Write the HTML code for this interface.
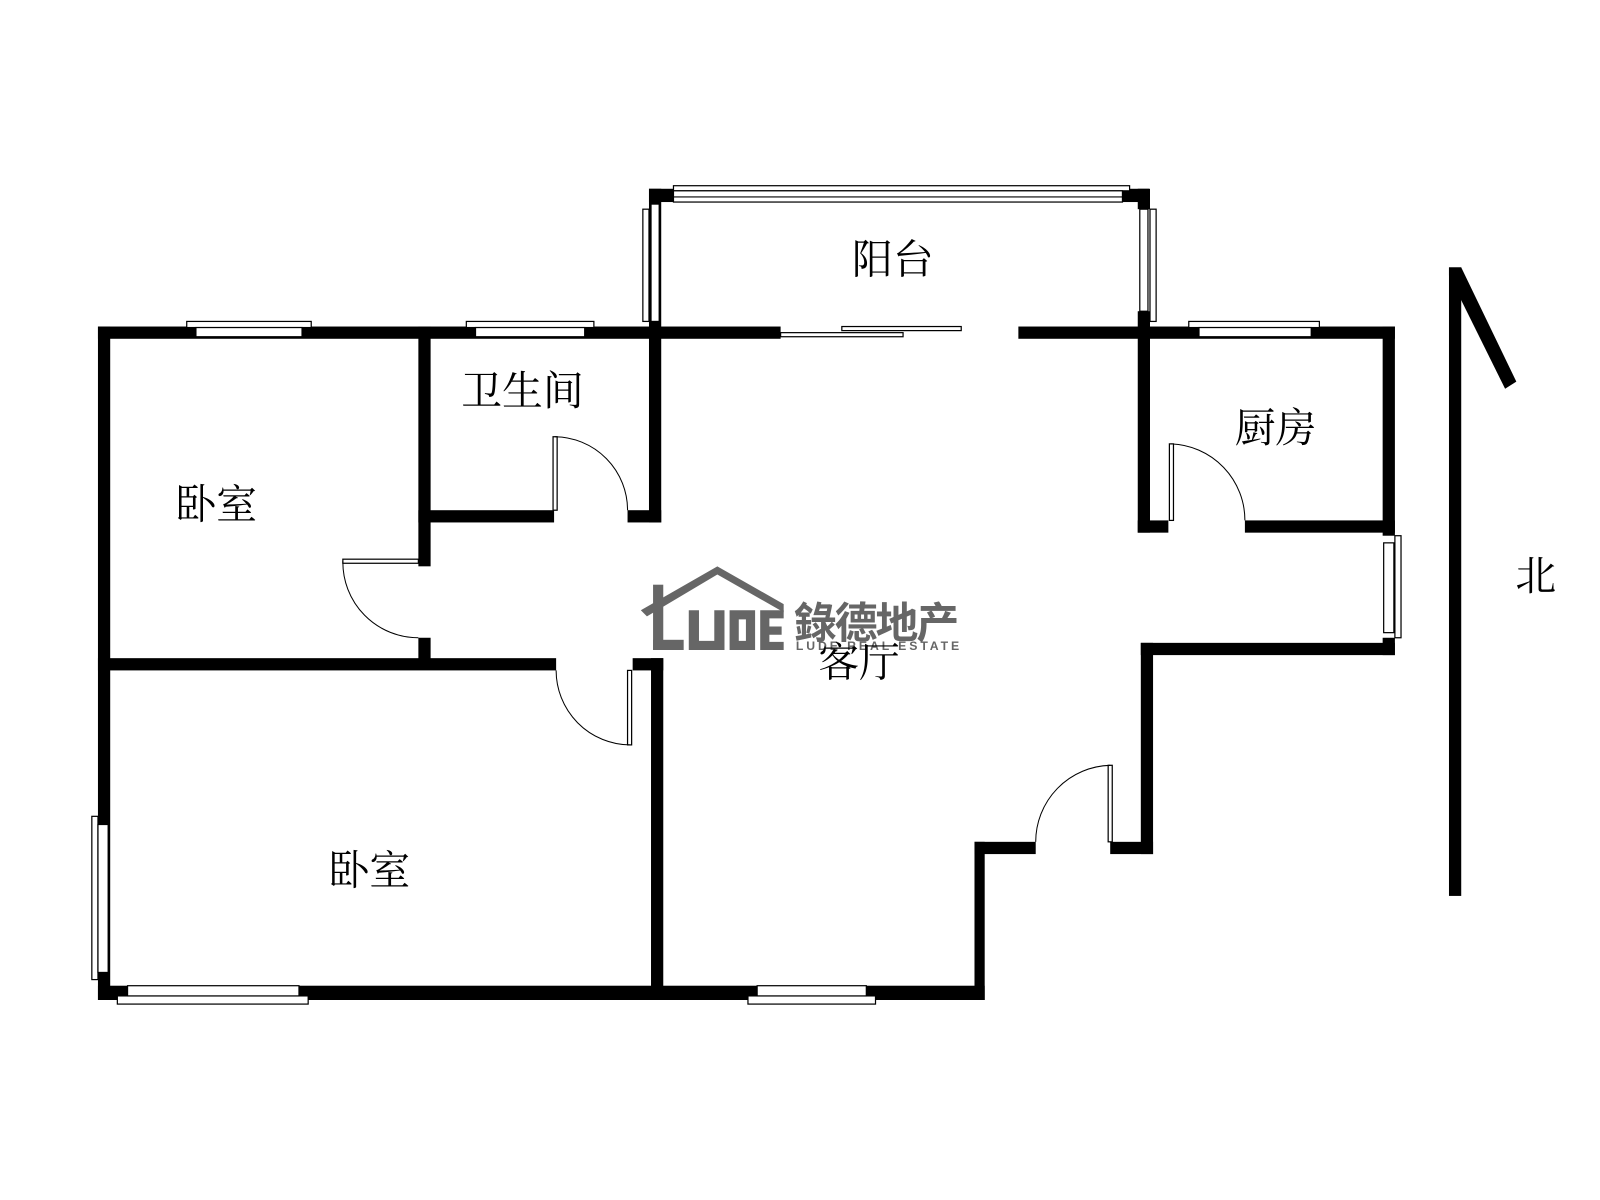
<!DOCTYPE html>
<html><head><meta charset="utf-8"><style>
html,body{margin:0;padding:0;background:#fff;}
svg{display:block;}
text{font-family:"Liberation Serif","Noto Serif CJK SC",serif;}
</style></head><body>
<svg width="1600" height="1200" viewBox="0 0 1568 1176" xmlns="http://www.w3.org/2000/svg">
<rect width="1568" height="1176" fill="#fff"/>
<g fill="#000">
<!-- top walls -->
<rect x="96" y="320" width="669" height="12"/>
<rect x="998" y="320" width="369" height="12"/>
<!-- left wall -->
<rect x="96" y="320" width="12" height="660"/>
<!-- bottom wall -->
<rect x="96" y="966" width="869" height="14"/>
<!-- bath/bedroom1 partition -->
<rect x="410" y="320" width="12" height="235"/>
<rect x="410" y="625" width="12" height="25"/>
<!-- bath bottom -->
<rect x="410" y="500" width="133" height="12"/>
<rect x="615" y="500" width="33" height="12"/>
<!-- bath right / balcony left -->
<rect x="636" y="185" width="12" height="327"/>
<rect x="636" y="185" width="24" height="13"/>
<rect x="1100" y="185" width="26" height="13"/>
<rect x="1115" y="185" width="12" height="20"/>
<rect x="1115" y="305" width="12" height="20"/>
<!-- kitchen -->
<rect x="1115" y="320" width="12" height="202"/>
<rect x="1115" y="510" width="30" height="12"/>
<rect x="1220" y="510" width="147" height="12"/>
<rect x="1355" y="320" width="12" height="205"/>
<rect x="1355" y="625" width="12" height="17"/>
<!-- right lower -->
<rect x="1118" y="630" width="249" height="12"/>
<rect x="1118" y="630" width="12" height="207"/>
<rect x="1088" y="825" width="42" height="12"/>
<rect x="955" y="825" width="60" height="12"/>
<rect x="955" y="825" width="10" height="155"/>
<!-- bedroom partition -->
<rect x="96" y="645" width="449" height="12"/>
<rect x="620" y="645" width="30" height="12"/>
<rect x="638" y="645" width="12" height="323"/>
<!-- north arrow -->
<rect x="1420" y="262" width="12" height="616"/>
<polygon points="1420,262 1432,262 1486,374 1475,381 1420,270"/>
</g>
<g fill="#fff" stroke="#000" stroke-width="1.2">
<!-- windows -->
<rect x="183" y="315" width="122" height="6"/><rect x="192" y="321" width="104" height="9"/>
<rect x="457" y="315" width="125" height="6"/><rect x="466" y="321" width="107" height="9"/>
<rect x="1165" y="315" width="128" height="6"/><rect x="1175" y="321" width="110" height="9"/>
<rect x="115" y="976" width="187" height="8"/><rect x="125" y="966" width="168" height="10"/>
<rect x="733" y="976" width="125" height="8"/><rect x="742" y="966" width="107" height="10"/>
<rect x="90" y="800" width="6" height="160"/><rect x="96" y="808" width="10" height="145"/>
<rect x="1367" y="525" width="6" height="100"/><rect x="1356" y="532" width="10" height="88"/>
<!-- balcony windows -->
<rect x="660" y="182" width="447" height="5"/><rect x="660" y="187" width="440" height="11"/>
<line x1="660" y1="193" x2="1100" y2="193"/>
<rect x="630" y="205" width="6" height="110"/><rect x="638" y="200" width="8" height="115"/>
<rect x="1127" y="205" width="6" height="110"/><rect x="1117" y="205" width="8" height="100"/>
<!-- sliding doors -->
<rect x="765" y="326" width="120" height="4"/>
<rect x="825" y="320" width="117" height="4"/>
<!-- door leaves -->
<rect x="336" y="548" width="74" height="4"/>
<rect x="542" y="428" width="4" height="72"/>
<rect x="1146" y="435" width="4" height="75"/>
<rect x="1086" y="750" width="4" height="75"/>
<rect x="615" y="657" width="4" height="73"/>
</g>
<g fill="none" stroke="#000" stroke-width="1">
<path d="M336,550 A74,74 0 0 0 410,625"/>
<path d="M544,428 A72,72 0 0 1 615,500"/>
<path d="M1148,435 A75,75 0 0 1 1220,510"/>
<path d="M1088,750 A75,75 0 0 0 1015,825"/>
<path d="M545,657 A73,73 0 0 0 617,730"/>
</g>
<!-- logo -->
<g fill="#666">
<polygon points="628,598 703,555 768,592 768,600 703,563 634,604"/>
<rect x="640" y="573" width="10" height="64"/>
<rect x="640" y="627" width="30" height="10"/>
<path d="M675,598 h10 v30 h15 v-30 h10 v39 h-35z"/>
<path d="M715,598 h25 v39 h-25z M724,607 v21 h7 v-21z" fill-rule="evenodd"/>
<path d="M745,598 h23 v8 h-14 v8 h12 v8 h-12 v7 h14 v8 h-23z"/>
</g>
<text x="778" y="625" font-family="Liberation Sans,'Noto Sans CJK SC',sans-serif" font-weight="bold" font-size="42" fill="#666" textLength="162" style="font-family:'Liberation Sans','Noto Sans CJK SC',sans-serif">錄德地产</text>
<text x="780" y="637" font-size="12" font-weight="bold" fill="#666" textLength="160" style="font-family:'Liberation Sans',sans-serif">LUDE REAL ESTATE</text>
<g font-size="40" fill="#000" text-anchor="middle">
<text x="875" y="268">阳台</text>
<text x="512" y="397">卫生间</text>
<text x="212" y="508">卧室</text>
<text x="1250" y="433">厨房</text>
<text x="1505" y="578">北</text>
<text x="842" y="663">客厅</text>
<text x="362" y="867">卧室</text>
</g>
</svg>
</body></html>
